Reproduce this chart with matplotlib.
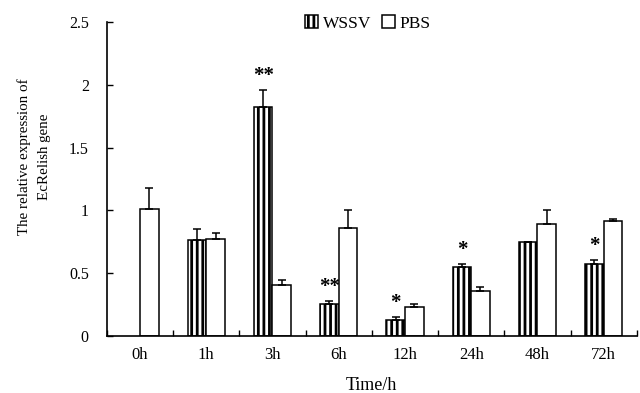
import matplotlib
matplotlib.use('Agg')
import matplotlib.pyplot as plt
import numpy as np

plt.rcParams['font.family'] = ['Liberation Serif', 'DejaVu Serif']
plt.rcParams['hatch.linewidth'] = 2.0

# data
times = ['0h', '1h', '3h', '6h', '12h', '24h', '48h', '72h']
wssv = [np.nan, 0.765, 1.82, 0.255, 0.127, 0.55, 0.745, 0.573]
wssv_err = [np.nan, 0.085, 0.14, 0.025, 0.022, 0.025, 0.005, 0.03]
pbs = [1.01, 0.775, 0.405, 0.86, 0.233, 0.36, 0.89, 0.913]
pbs_err = [0.17, 0.045, 0.04, 0.14, 0.02, 0.03, 0.11, 0.02]
signif = ['', '', '**', '**', '*', '*', '', '*']

x = np.arange(len(times))
w = 0.28

fig = plt.figure(figsize=(6.4, 3.93), dpi=100)
ax = fig.add_axes([0.167, 0.145, 0.828, 0.799])

ax.bar(x - w / 2, wssv, w, color='white', edgecolor='black', hatch='|||',
       linewidth=1.1, label='WSSV')
ax.bar(x + w / 2, pbs, w, color='white', edgecolor='black',
       linewidth=1.1, label='PBS')

zeros = np.zeros(len(times))
ax.errorbar(x - w / 2, wssv, yerr=[zeros, wssv_err], fmt='none',
            ecolor='black', elinewidth=1.1, capsize=3.2, capthick=1.1)
ax.errorbar(x + w / 2, pbs, yerr=[zeros, pbs_err], fmt='none',
            ecolor='black', elinewidth=1.1, capsize=3.2, capthick=1.1)

# significance marks above the WSSV bars
for i, s in enumerate(signif):
    if s:
        ax.annotate(s, xy=(x[i] - w / 2, wssv[i] + wssv_err[i]),
                    xytext=(0, 3), textcoords='offset points',
                    ha='center', va='bottom', fontsize=15, fontweight='bold')

ax.set_xlim(-0.5, len(times) - 0.5)
ax.set_ylim(0, 2.5)
ax.set_yticks([0, 0.5, 1, 1.5, 2, 2.5])
ax.set_yticklabels(['0', '0.5', '1', '1.5', '2', '2.5'])
ax.set_xticks(x)
ax.set_xticklabels(times)
ax.set_xticks(np.arange(len(times) + 1) - 0.5, minor=True)
ax.tick_params(axis='x', which='major', length=0, pad=8, labelsize=12)
ax.tick_params(axis='x', which='minor', direction='in', length=4, width=1)
ax.tick_params(axis='y', direction='in', length=4, width=1, labelsize=11.5, pad=13)

for side in ['top', 'right']:
    ax.spines[side].set_visible(False)
for side in ['left', 'bottom']:
    ax.spines[side].set_linewidth(1.2)

ax.set_xlabel('Time/h', fontsize=13, labelpad=10)
fig.text(34 / 640, 1 - 157 / 393, 'The relative expression of\nEcRelish gene',
         rotation=90, ha='center', va='center', multialignment='center',
         fontsize=10.8, linespacing=1.75)

fig.legend(loc='center left', bbox_to_anchor=(0.465, 0.94), ncol=2,
           frameon=False, fontsize=12.5, handlelength=0.75, handleheight=0.75,
           handletextpad=0.3, columnspacing=0.6, borderaxespad=0)

fig.savefig('out.png', dpi=100, facecolor='white')
